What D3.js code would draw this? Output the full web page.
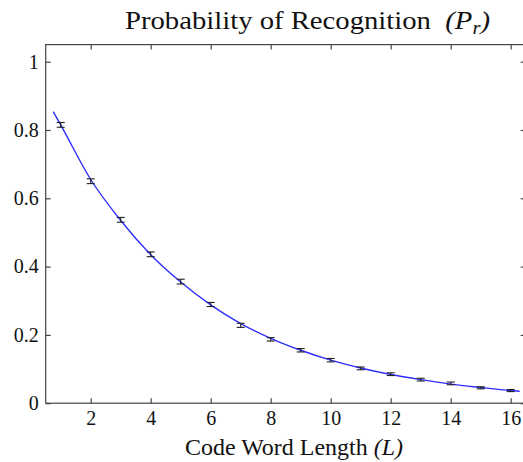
<!DOCTYPE html>
<html>
<head>
<meta charset="utf-8">
<script src="https://cdn.jsdelivr.net/npm/d3@7"></script>
<style>
  body { margin: 0; background: #fff; }
  svg { display: block; overflow: hidden; }
  text { font-family: "Liberation Serif", "Times New Roman", serif; fill: #111; }
</style>
</head>
<body>
<div id="chart"></div>
<script>
// measured points (code word length vs. probability of recognition)
var lengths = [1, 2, 3, 4, 5, 6, 7, 8, 9, 10, 11, 12, 13, 14, 15, 16];
var prob = [0.815, 0.650, 0.537, 0.436, 0.356, 0.289, 0.228, 0.187, 0.155, 0.126, 0.102, 0.085, 0.069, 0.058, 0.045, 0.037];
var err = [0.007, 0.007, 0.007, 0.007, 0.007, 0.006, 0.006, 0.005, 0.005, 0.005, 0.004, 0.004, 0.004, 0.004, 0.003, 0.003];

// fitted curve
var fitL = [0.75, 1, 2, 3, 4, 5, 6, 7, 8, 9, 10, 11, 12, 13, 14, 15, 16, 16.3];
var fitP = [0.854, 0.815, 0.655, 0.535, 0.435, 0.355, 0.288, 0.233, 0.190, 0.155, 0.126, 0.103, 0.084, 0.069, 0.056, 0.046, 0.037, 0.035];

var xTicks = [2, 4, 6, 8, 10, 12, 14, 16];
var yTicks = [0, 0.2, 0.4, 0.6, 0.8, 1];

var width = 523, height = 462;
var plotL = 45.7, plotR = 525.7, plotT = 44.6, plotB = 403.2;

var svg = d3.select("#chart").append("svg")
    .attr("width", width)
    .attr("height", height);

var x = d3.scaleLinear().domain([0.5, 16.5]).range([plotL, plotR]);
var y = d3.scaleLinear().domain([0, 1.05]).range([plotB, plotT]);

var axisColor = "#444";

// box
svg.append("rect")
    .attr("x", plotL).attr("y", plotT)
    .attr("width", plotR - plotL).attr("height", plotB - plotT)
    .attr("fill", "none")
    .attr("stroke", axisColor)
    .attr("stroke-width", 1.2);

function styleAxis(g) {
    g.select(".domain").remove();
    g.selectAll("line").attr("stroke", axisColor).attr("stroke-width", 1.2);
    g.selectAll("text").style("font-size", "20px").attr("fill", "#111");
}

svg.append("g")
    .attr("transform", "translate(0," + plotB + ")")
    .call(d3.axisBottom(x).tickValues(xTicks).tickSizeInner(-5).tickSizeOuter(0).tickPadding(8))
    .call(styleAxis);

svg.append("g")
    .attr("transform", "translate(0," + plotT + ")")
    .call(d3.axisTop(x).tickValues(xTicks).tickSizeInner(-5).tickSizeOuter(0).tickFormat(""))
    .call(styleAxis);

svg.append("g")
    .attr("transform", "translate(" + plotL + ",0)")
    .call(d3.axisLeft(y).tickValues(yTicks).tickSizeInner(-5).tickSizeOuter(0).tickPadding(7)
        .tickFormat(function(d) { return d3.format("")(d); }))
    .call(styleAxis);

svg.append("g")
    .attr("transform", "translate(" + plotR + ",0)")
    .call(d3.axisRight(y).tickValues(yTicks).tickSizeInner(-5).tickSizeOuter(0).tickFormat(""))
    .call(styleAxis);

// fitted curve
var fit = fitL.map(function(d, i) { return { l: d, p: fitP[i] }; });
var line = d3.line()
    .x(function(d) { return x(d.l); })
    .y(function(d) { return y(d.p); })
    .curve(d3.curveMonotoneX);

svg.append("path")
    .datum(fit)
    .attr("d", line)
    .attr("fill", "none")
    .attr("stroke", "#2f2fff")
    .attr("stroke-width", 1.4);

// error bars
var pts = lengths.map(function(d, i) { return { l: d, p: prob[i], e: err[i] }; });
var bars = svg.selectAll(".ebar")
    .data(pts)
    .enter()
    .append("g")
    .attr("class", "ebar")
    .attr("stroke", "#222")
    .attr("stroke-width", 1.1);

bars.append("line")
    .attr("x1", function(d) { return x(d.l); })
    .attr("x2", function(d) { return x(d.l); })
    .attr("y1", function(d) { return y(d.p - d.e); })
    .attr("y2", function(d) { return y(d.p + d.e); });

bars.append("line")
    .attr("x1", function(d) { return x(d.l) - 4; })
    .attr("x2", function(d) { return x(d.l) + 4; })
    .attr("y1", function(d) { return y(d.p - d.e); })
    .attr("y2", function(d) { return y(d.p - d.e); });

bars.append("line")
    .attr("x1", function(d) { return x(d.l) - 4; })
    .attr("x2", function(d) { return x(d.l) + 4; })
    .attr("y1", function(d) { return y(d.p + d.e); })
    .attr("y2", function(d) { return y(d.p + d.e); });

// title (slightly wider in the original, so stretch it a little)
var title = svg.append("text")
    .attr("x", 307.5)
    .attr("y", 29)
    .attr("text-anchor", "middle")
    .attr("textLength", 365)
    .attr("lengthAdjust", "spacingAndGlyphs")
    .style("font-size", "25px");
title.append("tspan").text("Probability of Recognition\u00a0\u00a0");
title.append("tspan").style("font-style", "italic").text("(P");
title.append("tspan").style("font-style", "italic").style("font-size", "18px").attr("dy", 5).text("r");
title.append("tspan").style("font-style", "italic").attr("dy", -5).text(")");

// x label
var xl = svg.append("text")
    .attr("x", 294)
    .attr("y", 455)
    .attr("text-anchor", "middle")
    .attr("textLength", 218)
    .attr("lengthAdjust", "spacingAndGlyphs")
    .style("font-size", "23px");
xl.append("tspan").text("Code Word Length ");
xl.append("tspan").style("font-style", "italic").text("(L)");
</script>
</body>
</html>
